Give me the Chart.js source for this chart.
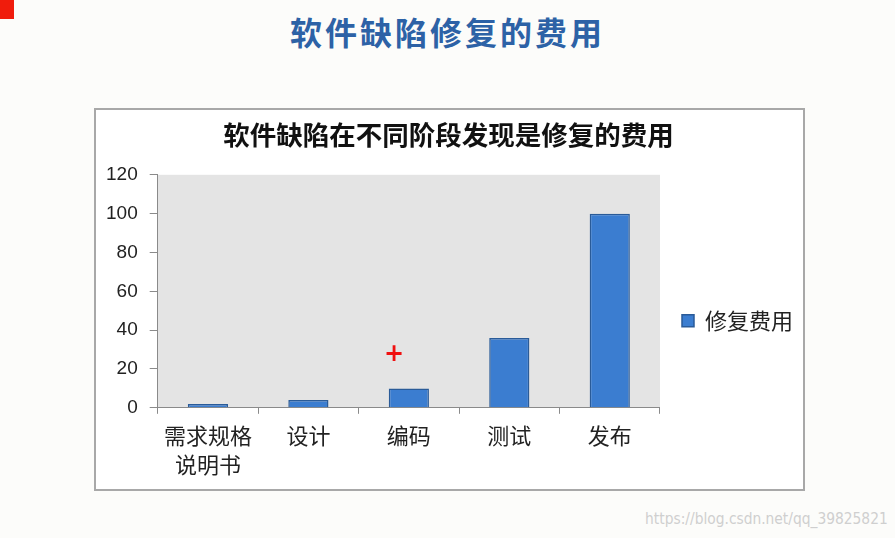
<!DOCTYPE html>
<html>
<head>
<meta charset="utf-8">
<script src="https://cdn.jsdelivr.net/npm/chart.js@4"></script>
<style>
  html, body { margin: 0; padding: 0; }
  body { width: 895px; height: 538px; background: #fcfcfa; position: relative; overflow: hidden;
         font-family: "Noto Sans CJK SC", "Noto Sans", sans-serif; }
  #redmark { position: absolute; left: 0; top: 0; width: 14px; height: 19px; background: #f01c0c; }
  #pageTitle { position: absolute; left: 0; width: 895px; top: 8px; text-align: center;
               font-size: 32px; font-weight: 700; color: #2d62a6; letter-spacing: 3px; }
  #frame { position: absolute; left: 94px; top: 108px; width: 707px; height: 379px;
           border: 2px solid #a8a8a8; background: #ffffff; }
  #wrap { position: absolute; left: 94px; top: 108px; width: 716px; height: 382px; }
  #cursor { position: absolute; left: 384px; top: 341px; color: #f01010; font-size: 24px;
            font-weight: 700; font-family: "DejaVu Sans", sans-serif; line-height: 24px; }
  #mark { position: absolute; right: 7px; top: 509px; color: #cfcfcf; font-size: 16px;
          font-family: "Liberation Sans Narrow", "DejaVu Sans Condensed", sans-serif;
          transform: scaleX(0.96); transform-origin: right center; }
</style>
</head>
<body>
<div id="redmark"></div>
<div id="pageTitle">软件缺陷修复的费用</div>
<div id="frame"></div>
<div id="wrap"><canvas id="myChart" width="716" height="382"></canvas></div>
<div id="cursor">+</div>
<div id="mark">https://blog.csdn.net/qq_39825821</div>
<script>
const stages = [["需求规格", "说明书"], "设计", "编码", "测试", "发布"];
const cost = [2, 4, 10, 36, 100];
const seriesName = "修复费用";
const chartTitle = "软件缺陷在不同阶段发现是修复的费用";

const cjk = '"Noto Sans CJK SC", "Noto Sans", sans-serif';

// grey plot area like the office chart
const plotBg = {
    id: "plotBg",
    beforeDraw(chart) {
        const a = chart.chartArea;
        const c = chart.ctx;
        c.save();
        c.fillStyle = "#e4e4e4";
        c.fillRect(a.left, a.top, a.right - a.left, a.bottom - a.top);
        c.restore();
    }
};

const ctx = document.getElementById("myChart").getContext("2d");
const myChart = new Chart(ctx, {
    type: "bar",
    data: {
        labels: stages,
        datasets: [
            {
                label: seriesName,
                data: cost,
                backgroundColor: "#3b7dd0",
                borderColor: "#2a5b98",
                borderWidth: 1.5,
                barPercentage: 0.5,
                categoryPercentage: 0.8,
            },
        ],
    },
    options: {
        responsive: false,
        animation: false,
        layout: {
            padding: { left: 0, right: 7, top: 0, bottom: 3 }
        },
        plugins: {
            title: {
                display: true,
                text: chartTitle,
                color: "#111",
                font: { family: cjk, size: 26.5, weight: "bold" },
                padding: { top: 11, bottom: 24 },
            },
            legend: {
                position: "right",
                title: { display: true, text: "", padding: 16 },
                labels: {
                    boxWidth: 12,
                    boxHeight: 12,
                    padding: 22,
                    color: "#222",
                    font: { family: cjk, size: 22 },
                },
            },
            tooltip: { enabled: false },
        },
        scales: {
            x: {
                grid: {
                    offset: true,
                    drawOnChartArea: false,
                    drawTicks: true,
                    tickLength: 6,
                    color: "#8a8a8a",
                },
                border: { color: "#8a8a8a", width: 1 },
                ticks: {
                    color: "#222",
                    padding: 8,
                    maxRotation: 0,
                    font: { family: cjk, size: 22, lineHeight: 1.3 },
                },
            },
            y: {
                min: 0,
                max: 120,
                ticks: {
                    stepSize: 20,
                    color: "#222",
                    padding: 12,
                    font: { family: '"Liberation Sans", Arial, sans-serif', size: 19 },
                },
                grid: {
                    drawOnChartArea: false,
                    drawTicks: true,
                    tickLength: 8,
                    color: "#8a8a8a",
                },
                border: { color: "#8a8a8a", width: 1 },
            },
        },
    },
    plugins: [plotBg],
});
</script>
</body>
</html>
